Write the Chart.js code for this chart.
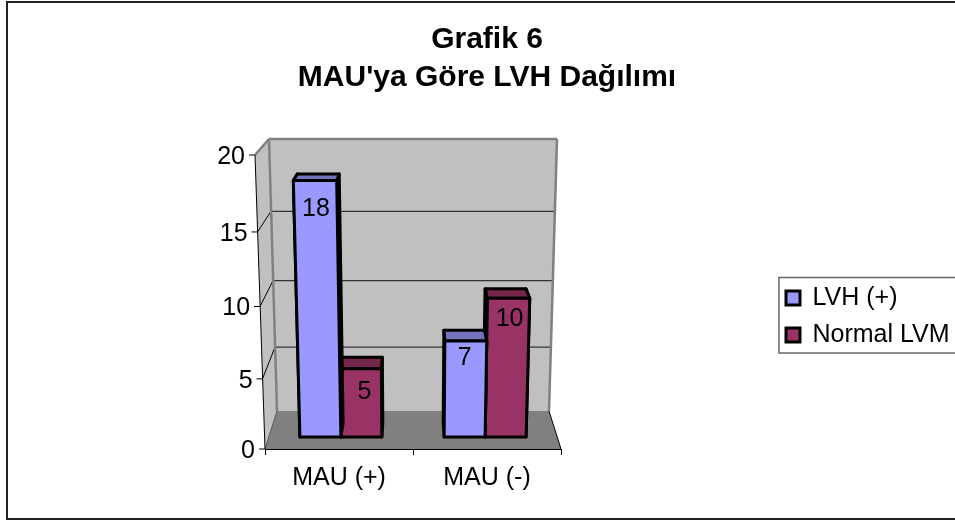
<!DOCTYPE html>
<html>
<head>
<meta charset="utf-8">
<script src="https://cdn.jsdelivr.net/npm/chart.js@4"></script>
<style>
  html, body { margin: 0; padding: 0; background: #fff; }
  #wrap { width: 955px; height: 522px; }
</style>
</head>
<body>
<div id="wrap"><canvas id="chart" width="955" height="522"></canvas></div>
<script>
const categories = ['MAU (+)', 'MAU (-)'];
const lvhValues = [18, 7];
const normalValues = [5, 10];
const seriesNames = ['LVH (+)', 'Normal LVM'];
const yTicks = [0, 5, 10, 15, 20];

const FONT = '"Liberation Sans", Arial, sans-serif';

// linear scale bent a little, the excel 3d view is a real perspective
class PerspectiveScale extends Chart.LinearScale {
  static id = 'perspective';
  static defaults = Chart.LinearScale.defaults;
  getPixelForValue(value) {
    const u = (value - this.min) / (this.max - this.min);
    return this.bottom - this.height * (u * 0.94 / (1 - 0.06 * u));
  }
}
Chart.register(PerspectiveScale);

const BACK_FLOOR = 38;   // back wall floor sits this far above the front one
const BACK_TOP = 16;     // back wall top sits this far above the front one
const BAR_FRONT = 0.316; // bar depth inside the floor, 0 front, 1 back
const BAR_BACK = 0.684;

function lerp(a, b, t) { return a + (b - a) * t; }

// X 0..1 along the width, v the value, d 0..1 into the depth
function project(chart, X, v, d) {
  const area = chart.chartArea;
  const scale = chart.scales.y;
  const u = v / scale.max;
  const yFront = scale.getPixelForValue(v);
  const floor = area.bottom - BACK_FLOOR;
  const top = area.top - BACK_TOP;
  const yBack = floor - (floor - top) * (u * 0.92 / (1 - 0.08 * u));
  const half = area.width / 2;
  const hFront = half + 10 * u;
  const hBack = half - 12 + 8 * u;
  return {
    x: (area.left + area.right) / 2 + (2 * X - 1) * lerp(hFront, hBack, d),
    y: lerp(yFront, yBack, d)
  };
}

function poly(ctx, pts, fill, stroke, lw) {
  ctx.beginPath();
  pts.forEach((p, i) => i ? ctx.lineTo(p.x, p.y) : ctx.moveTo(p.x, p.y));
  ctx.closePath();
  if (fill) { ctx.fillStyle = fill; ctx.fill(); }
  if (stroke) { ctx.strokeStyle = stroke; ctx.lineWidth = lw; ctx.stroke(); }
}

function line(ctx, a, b, color, lw) {
  ctx.beginPath();
  ctx.moveTo(a.x, a.y);
  ctx.lineTo(b.x, b.y);
  ctx.strokeStyle = color;
  ctx.lineWidth = lw;
  ctx.stroke();
}

const faceColors = [
  { top: '#7272BF', side: '#4C4C80' },
  { top: '#732649', side: '#4C1933' }
];
// data label offset from each bar's top front corner line
const labelDrop = [[29, 17], [23, 21]];
const labelShift = [[1, -1], [4, 1]];

const scene = {
  id: 'scene',
  afterLayout(chart) {
    // title and legend sit outside the plot, the layout padding would pull them in
    const t = chart.titleBlock;
    t.left = 0; t.right = 974; // the original chart is cut off on the right, title centres on all of it
    const l = chart.legend;
    l.left = 774; l.right = 955; l.top = 273.5; l.bottom = 370;
    const area = chart.chartArea;
    chart.scales.y.getLabelItems(area).forEach(item => {
      const tr = item.options.translation;
      tr[0] -= (area.bottom - tr[1]) * 10 / area.height;
      tr[1] += 2;
    });
  },
  beforeDraw(chart) {
    const ctx = chart.ctx;
    const P = (X, v, d) => project(chart, X, v, d);
    const max = chart.scales.y.max;
    ctx.save();
    ctx.lineJoin = 'miter';

    ctx.fillStyle = '#fff';
    ctx.fillRect(0, 0, chart.width, chart.height);
    // outer frame runs off the right edge of the page
    ctx.strokeStyle = '#222';
    ctx.lineWidth = 2;
    ctx.strokeRect(7, 2, 960, 517);

    // walls and floor
    poly(ctx, [P(0, 0, 0), P(0, max, 0), P(0, max, 1), P(0, 0, 1)], '#C0C0C0');
    poly(ctx, [P(0, 0, 1), P(0, max, 1), P(1, max, 1), P(1, 0, 1)], '#C0C0C0');
    poly(ctx, [P(0, 0, 0), P(0, 0, 1), P(1, 0, 1), P(1, 0, 0)], '#808080');

    yTicks.forEach(v => {
      if (v > 0 && v < max) {
        line(ctx, P(0, v, 1), P(1, v, 1), '#333', 1.3);
        line(ctx, P(0, v, 0), P(0, v, 1), '#000', 1);
      }
    });
    line(ctx, P(0, max, 0), P(0, max, 1), '#808080', 2.5);
    line(ctx, P(0, max, 1), P(1, max, 1), '#808080', 2.5);
    line(ctx, P(0, max, 1), P(0, 0, 1), '#808080', 2.5);
    line(ctx, P(1, max, 1), P(1, 0, 1), '#808080', 2.5);
    line(ctx, P(1, 0, 1), P(1, 0, 0), '#000', 1);
    line(ctx, P(0, 0, 1), P(0, 0, 0), '#555', 1);

    // slanted y axis with its ticks
    line(ctx, P(0, 0, 0), P(0, max, 0), '#000', 1);
    yTicks.forEach(v => {
      const p = P(0, v, 0);
      line(ctx, { x: p.x - 6, y: p.y }, p, '#000', 1);
    });

    // legend frame
    ctx.strokeStyle = '#666';
    ctx.lineWidth = 1.5;
    ctx.strokeRect(779, 277.5, 180, 75.5);
    ctx.restore();
  },
  // excel bars narrow towards the bottom, so the faces are built here from the bar elements
  beforeDatasetDraw(chart, args) {
    const ctx = chart.ctx;
    const area = chart.chartArea;
    const meta = args.meta;
    const ds = chart.data.datasets[args.index];
    const face = faceColors[args.index];
    ctx.save();
    ctx.lineJoin = 'round';
    meta.data.forEach((el, i) => {
      const v = ds.data[i];
      const x0 = (el.x - el.width / 2 - area.left) / area.width;
      const x1 = (el.x + el.width / 2 - area.left) / area.width;
      const P = (X, val, d) => project(chart, X, val, d);
      const stroke = '#000';
      const lw = 3;
      poly(ctx, [P(x0, 0, BAR_FRONT), P(x0, v, BAR_FRONT), P(x0, v, BAR_BACK), P(x0, 0, BAR_BACK)], face.side, stroke, lw);
      poly(ctx, [P(x1, 0, BAR_FRONT), P(x1, v, BAR_FRONT), P(x1, v, BAR_BACK), P(x1, 0, BAR_BACK)], face.side, stroke, lw);
      poly(ctx, [P(x0, v, BAR_FRONT), P(x0, v, BAR_BACK), P(x1, v, BAR_BACK), P(x1, v, BAR_FRONT)], face.top, stroke, lw);
      poly(ctx, [P(x0, 0, BAR_FRONT), P(x0, v, BAR_FRONT), P(x1, v, BAR_FRONT), P(x1, 0, BAR_FRONT)], ds.backgroundColor, stroke, lw);
    });
    ctx.restore();
    return false;
  },
  afterDatasetsDraw(chart) {
    const ctx = chart.ctx;
    const area = chart.chartArea;
    ctx.save();
    ctx.fillStyle = '#000';
    ctx.font = '25px ' + FONT;
    ctx.textAlign = 'center';
    ctx.textBaseline = 'middle';
    chart.data.datasets.forEach((ds, s) => {
      chart.getDatasetMeta(s).data.forEach((el, i) => {
        const X = (el.x - area.left) / area.width;
        const p = project(chart, X, ds.data[i], BAR_FRONT);
        ctx.fillText(String(ds.data[i]), p.x + labelShift[s][i], p.y + labelDrop[s][i]);
      });
    });
    ctx.restore();
  }
};

new Chart(document.getElementById('chart'), {
  type: 'bar',
  data: {
    labels: categories,
    datasets: [
      { label: seriesNames[0], data: lvhValues, backgroundColor: '#9999FF', borderColor: '#000', borderWidth: 3 },
      { label: seriesNames[1], data: normalValues, backgroundColor: '#993366', borderColor: '#000', borderWidth: 3 }
    ]
  },
  options: {
    responsive: false,
    animation: false,
    categoryPercentage: 0.568,
    barPercentage: 1,
    layout: { padding: { left: 0, right: 394, top: 0, bottom: 0 } },
    plugins: {
      tooltip: { enabled: false },
      title: {
        display: true,
        text: ['Grafik 6', "MAU'ya Göre LVH Dağılımı"],
        color: '#000',
        font: { family: FONT, size: 30, weight: 'bold', lineHeight: '38px' },
        padding: { top: 21, bottom: 58 }
      },
      legend: {
        position: 'chartArea',
        align: 'start',
        labels: {
          color: '#000',
          font: { family: FONT, size: 25 },
          boxWidth: 14,
          boxHeight: 14,
          padding: 12
        }
      }
    },
    scales: {
      x: {
        afterFit(scale) { scale.height = 73; },
        grid: { drawOnChartArea: false, color: '#000', tickLength: 6, tickColor: '#000' },
        border: { color: '#000', width: 1 },
        ticks: { color: '#000', font: { family: FONT, size: 25 }, padding: 8, maxRotation: 0 }
      },
      y: {
        type: 'perspective',
        min: 0,
        max: 20,
        afterFit(scale) { scale.width = 265; },
        grid: { display: false },
        border: { display: false },
        ticks: { stepSize: 5, color: '#000', font: { family: FONT, size: 25 }, padding: 2 }
      }
    }
  },
  plugins: [scene]
});
</script>
</body>
</html>
